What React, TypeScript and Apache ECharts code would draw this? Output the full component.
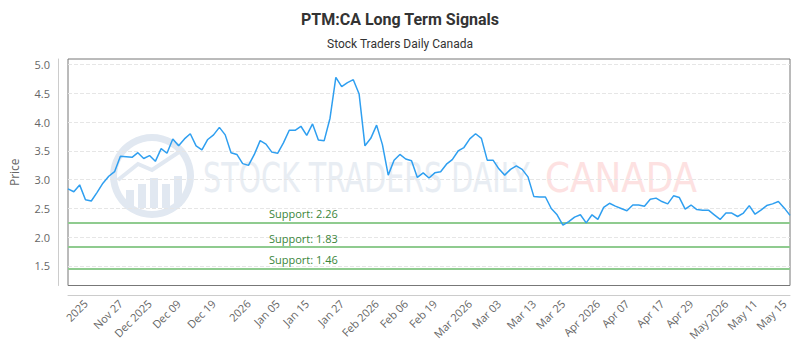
import React, { useEffect, useRef } from "react";
import * as echarts from "echarts";

const chartTitle = "PTM:CA Long Term Signals";
const chartSubtitle = "Stock Traders Daily Canada";
const yAxisName = "Price";

const prices = [
  2.84, 2.79, 2.91, 2.65, 2.63, 2.78, 2.94, 3.06, 3.14, 3.41,
  3.40, 3.39, 3.47, 3.37, 3.42, 3.32, 3.54, 3.46, 3.71, 3.59,
  3.71, 3.80, 3.59, 3.52, 3.70, 3.78, 3.91, 3.78, 3.47, 3.44,
  3.28, 3.25, 3.44, 3.68, 3.62, 3.48, 3.46, 3.64, 3.86, 3.86,
  3.93, 3.77, 3.97, 3.69, 3.68, 4.07, 4.78, 4.62, 4.69, 4.74,
  4.49, 3.59, 3.72, 3.95, 3.61, 3.08, 3.34, 3.44, 3.36, 3.33,
  3.04, 3.12, 3.03, 3.12, 3.14, 3.27, 3.35, 3.50, 3.56, 3.71,
  3.80, 3.72, 3.34, 3.34, 3.19, 3.08, 3.18, 3.24, 3.18, 3.05,
  2.71, 2.70, 2.70, 2.50, 2.39, 2.21, 2.27, 2.35, 2.39, 2.25,
  2.39, 2.31, 2.52, 2.59, 2.54, 2.50, 2.46, 2.56, 2.56, 2.54,
  2.66, 2.68, 2.62, 2.58, 2.72, 2.69, 2.49, 2.56, 2.48, 2.47,
  2.47, 2.39, 2.31, 2.42, 2.42, 2.36, 2.42, 2.55, 2.40, 2.47,
  2.55, 2.58, 2.62, 2.51, 2.38,
];

const tickIndex = [3, 9, 14, 19, 25, 31, 36, 41, 47, 53, 58, 63, 69, 74, 80, 85, 91, 96, 102, 107, 113, 118, 123];
const tickLabels = [
  "2025", "Nov 27", "Dec 2025", "Dec 09", "Dec 19", "2026", "Jan 05", "Jan 15",
  "Jan 27", "Feb 2026", "Feb 06", "Feb 19", "Mar 2026", "Mar 03", "Mar 13",
  "Mar 25", "Apr 2026", "Apr 07", "Apr 17", "Apr 29", "May 2026", "May 11", "May 15",
];

const supportLevels = [2.26, 1.83, 1.46];
const supportLabels = ["Support: 2.26", "Support: 1.83", "Support: 1.46"];

const watermarkMain = "STOCK TRADERS DAILY";
const watermarkSub = "CANADA";

function measure(text: string, font: string): number {
  const c = document.createElement("canvas").getContext("2d");
  if (!c) return 1;
  c.font = font;
  return c.measureText(text).width || 1;
}

export default function App() {
  const ref = useRef<HTMLDivElement>(null);

  useEffect(() => {
    if (!ref.current) return;
    const chart = echarts.init(ref.current, null, { renderer: "svg" });

    const categories = prices.map((_, i) => String(i));
    const labelMap: Record<number, string> = {};
    tickIndex.forEach((idx, k) => (labelMap[idx] = tickLabels[k]));

    const wmFamily = '"DejaVu Sans Condensed", "DejaVu Sans", sans-serif';
    const wmSize = 41;
    const wmFont = `${wmSize}px ${wmFamily}`;
    const s1 = 327 / measure(watermarkMain, wmFont);
    const s2 = 152 / measure(watermarkSub, wmFont);

    const logoColor = "#e1e8f1";

    const option: any = {
      animation: false,
      backgroundColor: "#ffffff",
      title: [
        {
          text: chartTitle,
          left: "center",
          top: 6,
          textStyle: { fontFamily: "Roboto", fontWeight: "bold", fontSize: 16, color: "#333333" },
        },
        {
          text: chartSubtitle,
          left: "center",
          top: 33,
          textStyle: { fontFamily: "Roboto", fontWeight: "normal", fontSize: 12, color: "#333333" },
        },
      ],
      graphic: [
        {
          type: "ring",
          z: 0,
          silent: true,
          shape: { cx: 152, cy: 176, r: 42, r0: 35 },
          style: { fill: logoColor },
        },
        {
          type: "group",
          silent: true,
          z: 0,
          children: [
            { type: "rect", shape: { x: 126, y: 190, width: 8, height: 17 }, style: { fill: logoColor } },
            { type: "rect", shape: { x: 138, y: 184, width: 8, height: 24 }, style: { fill: logoColor } },
            { type: "rect", shape: { x: 150, y: 178, width: 8, height: 30 }, style: { fill: logoColor } },
            { type: "rect", shape: { x: 162, y: 184, width: 8, height: 24 }, style: { fill: logoColor } },
            { type: "rect", shape: { x: 174, y: 176, width: 8, height: 30 }, style: { fill: logoColor } },
            {
              type: "polyline",
              shape: { points: [[118, 180], [138, 164], [152, 170], [182, 150]] },
              style: { stroke: logoColor, lineWidth: 4, fill: null },
            },
          ],
        },
        {
          type: "text",
          silent: true,
          z: 0,
          x: 203,
          y: 178,
          scaleX: s1,
          style: {
            text: watermarkMain,
            font: wmFont,
            fill: "#e8edf3",
            textVerticalAlign: "middle",
            textAlign: "left",
          },
        },
        {
          type: "text",
          silent: true,
          z: 0,
          x: 545,
          y: 178,
          scaleX: s2,
          style: {
            text: watermarkSub,
            font: wmFont,
            fill: "#fde1e1",
            textVerticalAlign: "middle",
            textAlign: "left",
          },
        },
      ],
      grid: {
        left: 63,
        right: 10,
        top: 59,
        bottom: 64.5,
        show: true,
        borderColor: "#777777",
        borderWidth: 1,
        backgroundColor: "transparent",
      },
      xAxis: {
        type: "category",
        data: categories,
        boundaryGap: false,
        offset: 10,
        axisLine: { show: true, lineStyle: { color: "#cccccc", width: 1 } },
        axisTick: { show: false },
        splitLine: { show: false },
        axisLabel: {
          interval: (index: number) => labelMap[index] !== undefined,
          formatter: (_v: string, index: number) => labelMap[index] ?? "",
          rotate: 45,
          margin: 6,
          color: "#666666",
          fontFamily: "Open Sans",
          fontSize: 11,
        },
      },
      yAxis: {
        type: "value",
        min: 1.16,
        max: 5.1,
        splitNumber: 8,
        offset: 10,
        name: yAxisName,
        nameLocation: "middle",
        nameGap: 38,
        nameTextStyle: { color: "#666666", fontFamily: "Open Sans", fontSize: 12 },
        axisLine: { show: true, lineStyle: { color: "#cccccc", width: 1 } },
        axisTick: { show: false },
        axisLabel: {
          showMinLabel: false,
          showMaxLabel: false,
          color: "#666666",
          fontFamily: "Open Sans",
          fontSize: 11,
          margin: 8,
          formatter: (v: number) => v.toFixed(1),
        },
        splitLine: {
          show: true,
          showMinLine: false,
          showMaxLine: false,
          lineStyle: { color: "#e6e6e6", type: "dashed", width: 1 },
        },
      },
      series: [
        {
          type: "line",
          data: prices,
          showSymbol: false,
          symbol: "none",
          z: 3,
          lineStyle: { color: "#2f9ff0", width: 1.5 },
          markLine: {
            silent: true,
            symbol: "none",
            z: 2,
            lineStyle: { color: "#8fcb8f", width: 2, type: "solid" },
            label: {
              show: true,
              position: "insideStartTop",
              distance: [201, 3],
              color: "#3a853a",
              fontFamily: "Open Sans",
              fontSize: 11,
            },
            data: supportLevels.map((v, i) => ({
              yAxis: v,
              label: { formatter: supportLabels[i] },
            })),
          },
        },
      ],
    };

    chart.setOption(option);
    return () => chart.dispose();
  }, []);

  return <div ref={ref} style={{ position: "absolute", left: 0, top: 0, width: 800, height: 350 }} />;
}
